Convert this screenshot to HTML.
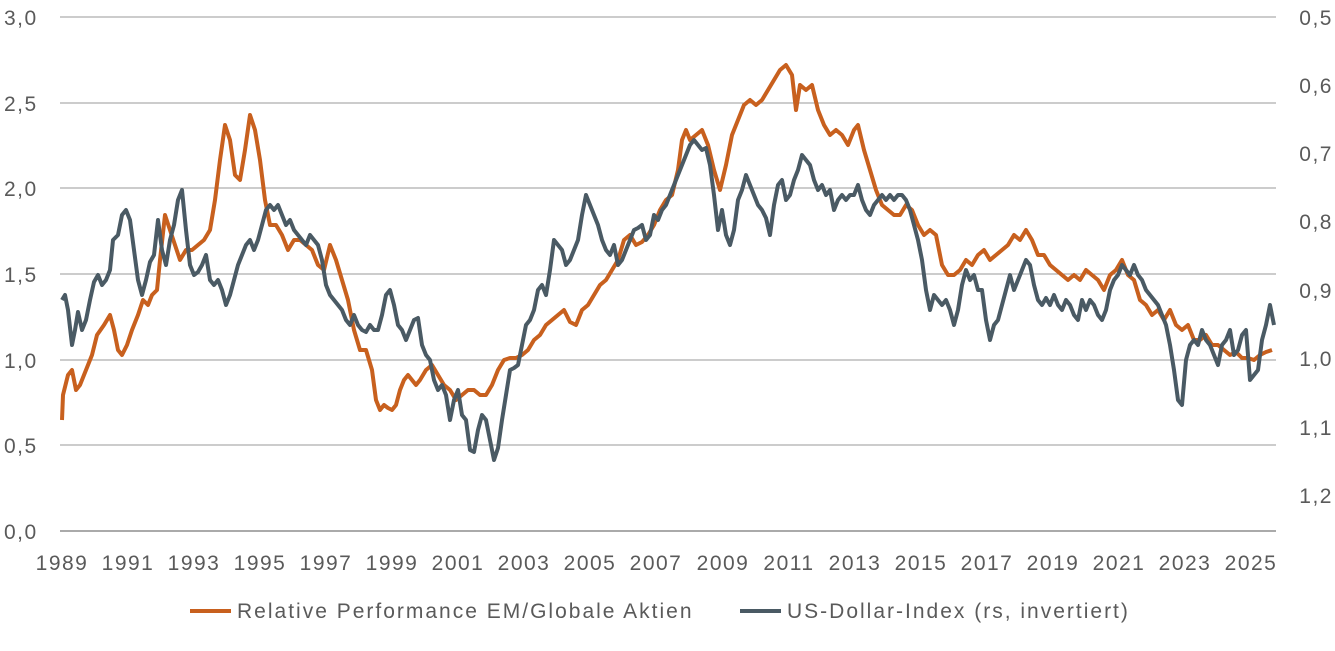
<!DOCTYPE html>
<html><head><meta charset="utf-8"><style>
body{margin:0;background:#fff;}
svg text{font-family:"Liberation Sans",sans-serif;fill:#5a5a5a;font-size:21px;letter-spacing:1.5px;}
</style></head><body>
<svg width="1335" height="646" viewBox="0 0 1335 646" xmlns="http://www.w3.org/2000/svg">
<g stroke="#9a9a9a" stroke-width="1">
<line x1="60" y1="17" x2="1276" y2="17"/>
<line x1="60" y1="103" x2="1276" y2="103"/>
<line x1="60" y1="188" x2="1276" y2="188"/>
<line x1="60" y1="274" x2="1276" y2="274"/>
<line x1="60" y1="360" x2="1276" y2="360"/>
<line x1="60" y1="445" x2="1276" y2="445"/>
</g>
<line x1="60" y1="531" x2="1276" y2="531" stroke="#777" stroke-width="1.2"/>
<g text-anchor="start">
<text x="4" y="25">3,0</text><text x="4" y="111">2,5</text><text x="4" y="196">2,0</text>
<text x="4" y="282">1,5</text><text x="4" y="368">1,0</text><text x="4" y="453">0,5</text><text x="4" y="539">0,0</text>
</g>
<g text-anchor="end">
<text x="1333" y="25">0,5</text><text x="1333" y="93">0,6</text><text x="1333" y="161">0,7</text>
<text x="1333" y="229">0,8</text><text x="1333" y="298">0,9</text><text x="1333" y="366">1,0</text>
<text x="1333" y="435">1,1</text><text x="1333" y="503">1,2</text>
</g>
<g text-anchor="middle">
<text x="62" y="570">1989</text><text x="128" y="570">1991</text><text x="194" y="570">1993</text>
<text x="260" y="570">1995</text><text x="326" y="570">1997</text><text x="392" y="570">1999</text>
<text x="458" y="570">2001</text><text x="524" y="570">2003</text><text x="590" y="570">2005</text>
<text x="656" y="570">2007</text><text x="723" y="570">2009</text><text x="789" y="570">2011</text>
<text x="855" y="570">2013</text><text x="921" y="570">2015</text><text x="987" y="570">2017</text>
<text x="1053" y="570">2019</text><text x="1119" y="570">2021</text><text x="1185" y="570">2023</text>
<text x="1251" y="570">2025</text>
</g>
<polyline fill="none" stroke="#c8601e" stroke-width="4" stroke-linejoin="round" points="62,420 63,395 68,375 72,370 76,390 80,385 86,370 92,355 97,335 104,325 110,315 114,330 118,350 122,355 127,345 132,330 138,315 143,300 148,305 152,295 157,290 160,260 165,215 170,230 175,245 180,260 186,250 192,250 198,245 204,240 210,230 215,200 220,160 225,125 230,140 235,175 240,180 245,150 250,115 255,130 260,160 265,200 270,225 276,225 282,235 288,250 294,240 300,240 306,245 312,250 318,265 324,270 330,245 336,260 342,280 348,300 354,330 360,350 366,350 372,370 376,400 380,410 384,405 388,408 392,410 396,405 400,390 404,380 408,375 412,380 416,385 420,380 426,370 432,365 438,375 444,385 450,390 456,400 462,395 468,390 474,390 480,395 486,395 492,385 498,370 504,360 510,358 516,358 522,355 528,350 534,340 540,335 546,325 552,320 558,315 564,310 570,322 576,325 582,310 588,305 594,295 600,285 606,280 612,270 618,260 624,240 630,235 636,245 642,242 648,235 654,225 660,210 666,200 672,195 678,170 682,140 686,130 690,140 696,135 702,130 708,145 714,170 720,190 726,165 732,135 738,120 744,105 750,100 756,105 762,100 768,90 774,80 780,70 786,65 792,75 796,110 800,85 806,90 812,85 818,110 824,125 830,135 836,130 842,135 848,145 854,130 858,125 864,150 870,170 876,190 882,205 888,210 894,215 900,215 906,205 912,210 918,225 924,235 930,230 936,235 942,265 948,275 954,275 960,270 966,260 972,265 978,255 984,250 990,260 996,255 1002,250 1008,245 1014,235 1020,240 1026,230 1032,240 1038,255 1044,255 1050,265 1056,270 1062,275 1068,280 1074,275 1080,280 1086,270 1092,275 1098,280 1104,290 1110,275 1116,270 1122,260 1128,275 1134,280 1140,300 1146,305 1152,315 1158,310 1164,320 1170,310 1176,325 1182,330 1188,325 1194,340 1200,340 1206,335 1212,345 1218,345 1224,350 1230,355 1236,352 1242,358 1248,358 1254,360 1260,355 1266,352 1272,350"/>
<polyline fill="none" stroke="#4a5a64" stroke-width="4" stroke-linejoin="round" points="62,300 65,295 68,310 72,345 75,330 78,312 82,330 86,320 90,300 94,282 98,275 102,285 106,280 110,270 113,240 118,235 122,215 126,210 130,220 134,250 138,280 142,295 146,280 150,262 154,255 158,220 162,250 166,265 170,240 174,225 178,200 182,190 186,230 190,265 194,275 198,272 202,265 206,255 210,280 214,285 218,280 222,290 226,305 230,295 234,280 238,265 242,255 246,245 250,240 254,250 258,240 262,225 266,210 270,205 274,210 278,205 282,215 286,225 290,220 294,230 298,235 302,240 306,245 310,235 314,240 318,245 322,260 326,285 330,295 334,300 338,305 342,310 346,320 350,325 354,315 358,325 362,330 366,332 370,325 374,330 378,330 382,315 386,295 390,290 394,305 398,325 402,330 406,340 410,330 414,320 418,318 422,345 426,355 430,360 434,380 438,390 442,385 446,395 450,420 454,400 458,390 462,415 466,420 470,450 474,452 478,430 482,415 486,420 490,440 494,460 498,448 502,420 506,395 510,370 514,368 518,365 522,345 526,325 530,320 534,310 538,290 542,285 546,295 550,270 554,240 558,245 562,250 566,265 570,260 574,250 578,240 582,215 586,195 590,205 594,215 598,225 602,240 606,250 610,255 614,245 618,265 622,260 626,250 630,240 634,230 638,228 642,225 646,240 650,235 654,215 658,220 662,210 666,205 670,195 674,185 678,175 682,165 686,155 690,145 694,140 698,145 702,150 706,148 710,165 714,195 718,230 722,210 726,235 730,245 734,230 738,200 742,190 746,175 750,185 754,195 758,205 762,210 766,218 770,235 774,205 778,185 782,180 786,200 790,195 794,180 798,170 802,155 806,160 810,165 814,180 818,190 822,185 826,195 830,190 834,210 838,200 842,195 846,200 850,195 854,195 858,185 862,200 866,210 870,215 874,205 878,200 882,195 886,200 890,195 894,200 898,195 902,195 906,200 910,210 914,225 918,240 922,260 926,290 930,310 934,295 938,300 942,305 946,300 950,310 954,325 958,310 962,285 966,270 970,280 974,275 978,290 982,290 986,320 990,340 994,325 998,320 1002,305 1006,290 1010,275 1014,290 1018,280 1022,270 1026,260 1030,265 1034,285 1038,300 1042,305 1046,298 1050,305 1054,295 1058,305 1062,310 1066,300 1070,305 1074,315 1078,320 1082,300 1086,310 1090,300 1094,305 1098,315 1102,320 1106,310 1110,290 1114,280 1118,275 1122,265 1126,270 1130,275 1134,265 1138,275 1142,280 1146,290 1150,295 1154,300 1158,305 1162,315 1166,325 1170,345 1174,370 1178,400 1182,405 1186,360 1190,345 1194,340 1198,345 1202,330 1206,340 1210,345 1214,355 1218,365 1222,345 1226,340 1230,330 1234,355 1238,350 1242,335 1246,330 1250,380 1254,375 1258,370 1262,340 1266,325 1270,305 1274,325"/>
<line x1="190" y1="611" x2="231" y2="611" stroke="#c8601e" stroke-width="4"/>
<text x="237" y="618" style="letter-spacing:2px">Relative Performance EM/Globale Aktien</text>
<line x1="740" y1="611" x2="781" y2="611" stroke="#4a5a64" stroke-width="4"/>
<text x="787" y="618" style="letter-spacing:2px">US-Dollar-Index (rs, invertiert)</text>
</svg>
</body></html>
